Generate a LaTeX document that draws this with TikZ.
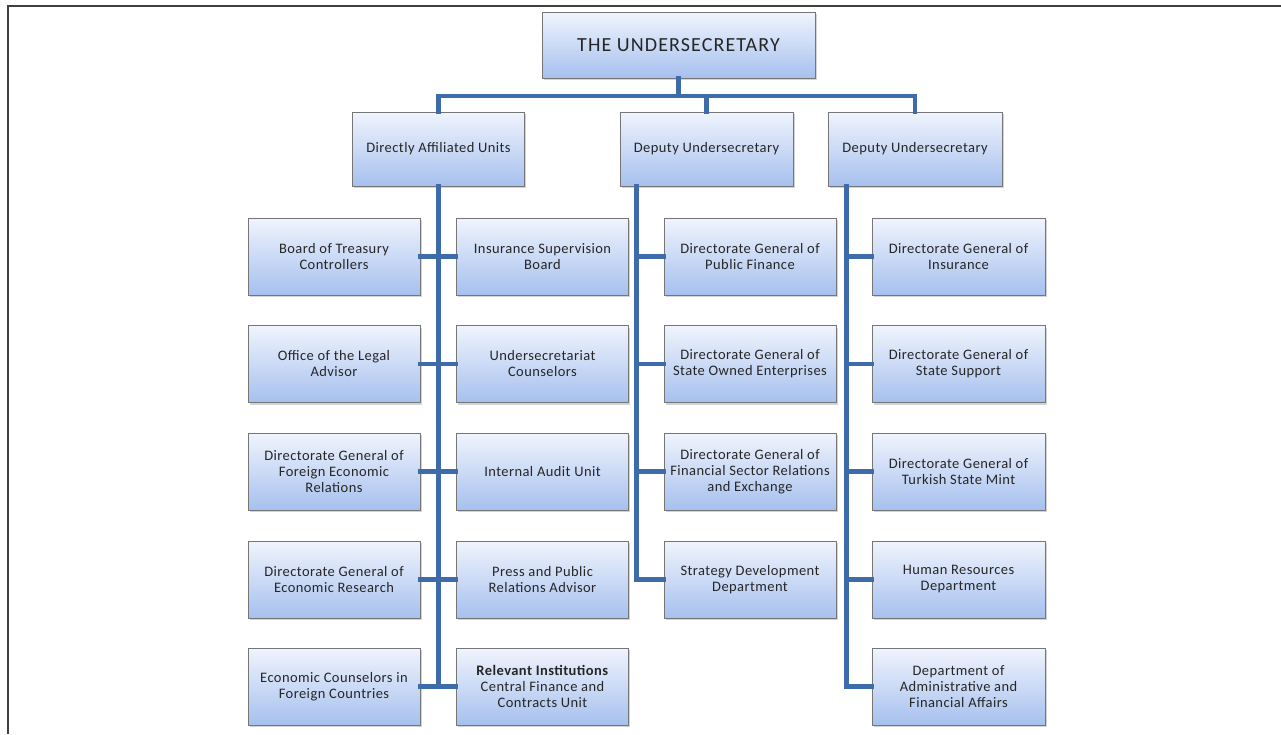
\documentclass[tikz,border=0pt]{standalone}
\usepackage{fontspec}
\setmainfont{Carlito}
\usetikzlibrary{shadows,calc}
\definecolor{linkblue}{RGB}{62,108,170}
\definecolor{boxtop}{RGB}{240,244,253}
\definecolor{boxbot}{RGB}{166,192,238}
\definecolor{boxline}{RGB}{118,118,118}
\definecolor{txt}{RGB}{38,38,38}
\begin{document}
\begin{tikzpicture}[x=1pt,y=-1pt,
  unitbox/.style={draw=boxline, line width=0.9pt, top color=boxtop, bottom color=boxbot,
    drop shadow={opacity=0.35, shadow xshift=1.5pt, shadow yshift=-2pt},
    minimum width=172pt, minimum height=77pt, align=center, inner sep=1pt,
    text=txt, font=\fontsize{14.5}{16}\selectfont\addfontfeature{LetterSpace=3}},
  headbox/.style={unitbox, minimum height=74pt},
  link/.style={draw=linkblue, line width=4.2pt, line cap=rect}]
\useasboundingbox (0,0) rectangle (1281,734);
% frame
\draw[line width=2pt, black!75] (8,734) -- (8,6) -- (1281,6);
% top
\node[unitbox, minimum width=273pt, minimum height=66pt, font=\fontsize{20}{24}\selectfont\addfontfeature{LetterSpace=5.5}] (top) at (678.5,45) {THE UNDERSECRETARY};
\node[headbox] (dau) at (438.5,149) {Directly Affiliated Units};
\node[headbox, minimum width=173pt] (dep1) at (706.5,149) {Deputy Undersecretary};
\node[headbox, minimum width=174pt] (dep2) at (915,149) {Deputy Undersecretary};
% column A
\node[unitbox] (a1) at (334,256.5) {Board of Treasury\\Controllers};
\node[unitbox] (a2) at (334,364) {Office of the Legal\\Advisor};
\node[unitbox] (a3) at (334,471.5) {Directorate General of\\Foreign Economic\\Relations};
\node[unitbox] (a4) at (334,579.5) {Directorate General of\\Economic Research};
\node[unitbox] (a5) at (334,686.5) {Economic Counselors in\\Foreign Countries};
% column B
\node[unitbox] (b1) at (542.5,256.5) {Insurance Supervision\\Board};
\node[unitbox] (b2) at (542.5,364) {Undersecretariat\\Counselors};
\node[unitbox] (b3) at (542.5,471.5) {Internal Audit Unit};
\node[unitbox] (b4) at (542.5,579.5) {Press and Public\\Relations Advisor};
\node[unitbox] (b5) at (542.5,686.5) {\textbf{Relevant Institutions}\\Central Finance and\\Contracts Unit};
% column C
\node[unitbox] (c1) at (750,256.5) {Directorate General of\\Public Finance};
\node[unitbox] (c2) at (750,364) {Directorate General of\\State Owned Enterprises};
\node[unitbox] (c3) at (750,471.5) {Directorate General of\\Financial Sector Relations\\and Exchange};
\node[unitbox] (c4) at (750,579.5) {Strategy Development\\Department};
% column D
\node[unitbox, minimum width=173pt] (d1) at (958.5,256.5) {Directorate General of\\Insurance};
\node[unitbox, minimum width=173pt] (d2) at (958.5,364) {Directorate General of\\State Support};
\node[unitbox, minimum width=173pt] (d3) at (958.5,471.5) {Directorate General of\\Turkish State Mint};
\node[unitbox, minimum width=173pt] (d4) at (958.5,579.5) {Human Resources\\Department};
\node[unitbox, minimum width=173pt] (d5) at (958.5,686.5) {Department of\\Administrative and\\Financial Affairs};
% connectors
\coordinate (bus) at (0,96);
\coordinate (tC) at ([xshift=17pt]dep1.south west);
\coordinate (tD) at ([xshift=19pt]dep2.south west);
\path[link] (top.south) -- (top.south |- bus);
\path[link] (dau.north) -- (dau.north |- bus) -- (dep2.north |- bus) -- (dep2.north);
\path[link] (dep1.north) -- (dep1.north |- bus);
% trunk A
\path[link] (dau.south) -- (dau.south |- a5.east);
\path[link] (a1.east) -- (b1.west);
\path[link] (a2.east) -- (b2.west);
\path[link] (a3.east) -- (b3.west);
\path[link] (a4.east) -- (b4.west);
\path[link] (a5.east) -- (b5.west);
% trunk C
\path[link] (tC) |- (c4.west);
\path[link] (c1.west) -- (c1.west -| tC);
\path[link] (c2.west) -- (c2.west -| tC);
\path[link] (c3.west) -- (c3.west -| tC);
% trunk D
\path[link] (tD) |- (d5.west);
\path[link] (d1.west) -- (d1.west -| tD);
\path[link] (d2.west) -- (d2.west -| tD);
\path[link] (d3.west) -- (d3.west -| tD);
\path[link] (d4.west) -- (d4.west -| tD);
\end{tikzpicture}
\end{document}
